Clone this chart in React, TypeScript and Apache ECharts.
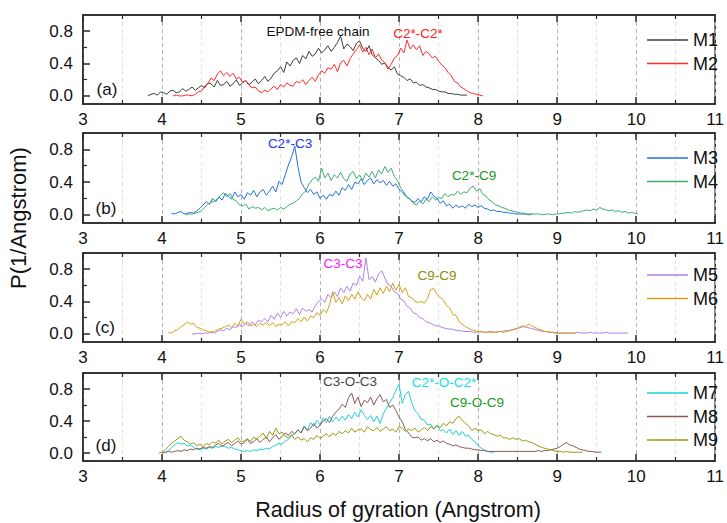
import React, { useEffect, useRef } from "react";
import * as echarts from "echarts";

// ---------- data (x = start + i * STEP) ----------
const STEP = 0.04;

const X_TICKS = [3, 4, 5, 6, 7, 8, 9, 10, 11];
const Y_LABELS = [0, 0.4, 0.8];
const Y_MINOR = [0.2, 0.6];

const SERIES_NAMES = ["M1", "M2", "M3", "M4", "M5", "M6", "M7", "M8", "M9"];
const SERIES_PANEL = [0, 0, 1, 1, 2, 2, 3, 3, 3];
const SERIES_START = [3.82, 4.14, 4.12, 4.3, 4.38, 4.08, 4.04, 4.0, 3.96];

const M1 = [0.00,0.02,0.03,0.01,0.05,
0.04,0.02,0.06,0.07,0.04,0.05,0.09,0.06,
0.08,0.11,0.07,0.10,0.13,
0.10,0.16,0.15,0.11,0.19,0.13,0.14,
0.18,0.12,0.15,0.20,0.13,0.16,0.19,0.14,
0.17,0.21,0.15,0.19,0.24,0.18,0.22,0.28,
0.31,0.36,0.29,0.42,0.37,0.44,0.47,0.40,
0.50,0.46,0.55,0.49,0.52,0.59,0.53,0.57,
0.62,0.55,0.60,0.66,0.74,0.58,0.64,0.61,
0.56,0.65,0.68,0.59,0.55,0.62,0.51,0.47,
0.44,0.39,0.41,0.35,0.32,0.36,0.27,0.25,
0.23,0.19,0.21,0.16,0.17,0.13,0.14,0.11,
0.10,0.08,0.08,0.06,0.05,0.05,0.03,0.03,
0.02,0.02,0.01,0.01,0.01];

const M2 = [0.00,0.01,0.00,0.00,0.01,0.01,0.00,0.02,
0.05,0.06,0.12,0.15,0.22,0.19,0.27,0.31,
0.25,0.29,0.24,0.28,0.21,0.23,0.17,0.19,
0.13,0.10,0.11,0.06,0.04,0.07,0.05,0.09,
0.12,0.08,0.14,0.11,0.16,0.13,0.12,0.18,
0.16,0.20,0.14,0.19,0.23,0.18,0.26,0.31,
0.28,0.35,0.33,0.39,0.30,0.41,0.44,0.37,
0.46,0.52,0.57,0.63,0.54,0.60,0.51,0.58,
0.47,0.52,0.44,0.41,0.33,0.39,0.47,0.50,
0.59,0.53,0.69,0.58,0.63,0.57,0.62,0.50,
0.55,0.52,0.47,0.49,0.43,0.38,0.35,0.29,
0.25,0.18,0.16,0.11,0.09,0.06,0.04,0.03,
0.02,0.01,0.00];

const M3 = [0.02,0.01,0.03,0.04,0.01,0.02,0.03,0.02,
0.05,0.08,0.12,0.16,0.13,0.20,0.16,0.22,
0.18,0.26,0.23,0.19,0.28,0.22,0.25,0.19,
0.27,0.24,0.30,0.22,0.28,0.31,0.24,0.29,
0.35,0.28,0.41,0.37,0.49,0.61,0.71,0.84,
0.59,0.40,0.33,0.27,0.31,0.25,0.28,0.20,
0.24,0.19,0.25,0.23,0.29,0.24,0.33,0.30,
0.37,0.31,0.40,0.38,0.44,0.37,0.42,0.45,
0.38,0.43,0.39,0.42,0.36,0.41,0.35,0.38,
0.31,0.28,0.23,0.21,0.17,0.15,0.20,0.16,
0.22,0.19,0.28,0.23,0.20,0.14,0.17,0.11,
0.13,0.08,0.12,0.09,0.11,0.08,0.13,0.10,
0.12,0.09,0.11,0.08,0.07,0.05,0.06,0.04,
0.04,0.03,0.03,0.02,0.02,0.01,0.01,0.01,
0.01,0.00,0.01];

const M4 = [0.00,0.01,0.01,0.02,0.03,0.05,0.09,0.13,
0.15,0.17,0.19,0.24,0.27,0.22,0.26,0.19,
0.17,0.12,0.11,0.13,0.07,0.10,0.08,0.09,
0.06,0.09,0.05,0.07,0.08,0.06,0.09,0.07,
0.10,0.13,0.14,0.17,0.20,0.26,0.29,0.38,
0.43,0.46,0.41,0.57,0.45,0.51,0.42,0.49,
0.45,0.52,0.44,0.41,0.50,0.53,0.44,0.49,
0.42,0.51,0.46,0.53,0.45,0.55,0.50,0.59,
0.52,0.57,0.47,0.42,0.33,0.28,0.21,0.19,
0.14,0.12,0.17,0.13,0.19,0.16,0.22,0.18,
0.21,0.20,0.26,0.22,0.25,0.24,0.29,0.25,
0.28,0.27,0.33,0.35,0.29,0.32,0.25,0.23,
0.18,0.16,0.12,0.11,0.09,0.08,0.06,0.05,
0.04,0.03,0.02,0.02,0.01,0.01,0.01,0.01,
0.01,0.00,0.01,0.01,0.00,0.01,0.01,0.02,
0.02,0.03,0.02,0.04,0.03,0.04,0.05,0.06,
0.05,0.07,0.06,0.09,0.07,0.06,0.05,0.06,
0.04,0.05,0.03,0.04,0.02,0.03,0.02,0.01];

const M5 = [0.00,0.00,0.01,0.00,0.01,0.01,0.02,0.01,
0.03,0.05,0.04,0.07,0.05,0.09,0.08,0.11,
0.09,0.13,0.10,0.15,0.11,0.17,0.15,0.19,
0.15,0.23,0.18,0.26,0.20,0.28,0.22,0.27,
0.25,0.31,0.24,0.32,0.28,0.30,0.27,0.35,
0.40,0.43,0.39,0.49,0.45,0.52,0.46,0.57,
0.51,0.59,0.53,0.63,0.60,0.71,0.65,0.94,
0.67,0.71,0.64,0.74,0.78,0.69,0.61,0.59,
0.52,0.50,0.43,0.41,0.34,0.32,0.26,0.25,
0.20,0.19,0.15,0.14,0.12,0.10,0.10,0.08,
0.07,0.06,0.06,0.05,0.04,0.04,0.03,0.03,
0.03,0.02,0.02,0.03,0.02,0.02,0.03,0.03,
0.02,0.03,0.03,0.04,0.04,0.05,0.06,0.07,
0.08,0.09,0.08,0.07,0.06,0.05,0.04,0.03,
0.03,0.02,0.02,0.01,0.01,0.01,0.01,0.01,
0.01,0.01,0.02,0.01,0.01,0.01,0.02,0.01,
0.01,0.01,0.01,0.02,0.01,0.01,0.01,0.01,
0.01,0.01,0.01];

const M6 = [0.02,0.01,0.04,0.05,0.09,0.11,0.15,0.12,
0.13,0.08,0.07,0.05,0.04,0.02,0.03,0.04,
0.06,0.07,0.09,0.11,0.08,0.13,0.10,0.18,
0.12,0.15,0.10,0.12,0.09,0.13,0.11,0.14,
0.10,0.14,0.09,0.12,0.11,0.15,0.10,0.15,
0.14,0.19,0.15,0.21,0.16,0.22,0.20,0.26,
0.23,0.30,0.26,0.36,0.52,0.39,0.45,0.37,
0.47,0.41,0.49,0.43,0.52,0.45,0.41,0.49,
0.43,0.55,0.48,0.57,0.50,0.59,0.52,0.63,
0.54,0.61,0.51,0.57,0.46,0.45,0.40,0.39,
0.40,0.38,0.44,0.55,0.56,0.49,0.45,0.42,
0.35,0.32,0.24,0.23,0.15,0.12,0.09,0.07,
0.05,0.04,0.03,0.03,0.02,0.02,0.02,0.02,
0.02,0.03,0.02,0.03,0.04,0.05,0.06,0.08,
0.10,0.09,0.12,0.10,0.08,0.06,0.05,0.03,
0.03,0.02,0.02,0.01,0.01,0.01,0.01,0.01,
0.01,0.01];

const M7 = [0.00,0.03,0.07,0.10,0.13,0.11,0.12,0.09,
0.10,0.07,0.05,0.04,0.06,0.05,0.07,0.06,
0.08,0.07,0.09,0.08,0.06,0.07,0.05,0.04,
0.03,0.02,0.03,0.02,0.04,0.03,0.05,0.04,
0.06,0.05,0.08,0.10,0.12,0.11,0.15,0.17,
0.22,0.24,0.29,0.25,0.34,0.29,0.38,0.33,
0.41,0.35,0.44,0.38,0.46,0.39,0.45,0.40,
0.46,0.41,0.48,0.43,0.51,0.45,0.54,0.47,
0.42,0.47,0.39,0.46,0.37,0.49,0.56,0.63,
0.69,0.79,0.86,0.62,0.73,0.77,0.63,0.53,
0.49,0.42,0.41,0.35,0.36,0.30,0.35,0.28,
0.29,0.25,0.30,0.23,0.28,0.22,0.27,0.21,
0.22,0.17,0.14,0.09,0.06,0.04,0.02,0.01,
0.01];

const M8 = [0.00,0.01,0.02,0.01,0.02,0.03,0.02,0.04,
0.03,0.05,0.04,0.06,0.05,0.07,0.06,0.08,
0.07,0.10,0.12,0.08,0.11,0.13,0.09,0.12,
0.15,0.11,0.13,0.17,0.12,0.14,0.18,0.13,
0.17,0.20,0.14,0.19,0.23,0.17,0.21,0.25,
0.22,0.27,0.24,0.29,0.25,0.33,0.28,0.31,
0.37,0.31,0.35,0.40,0.43,0.38,0.46,0.51,
0.55,0.61,0.57,0.69,0.75,0.62,0.70,0.58,
0.66,0.63,0.70,0.60,0.68,0.73,0.64,0.67,
0.57,0.60,0.53,0.45,0.39,0.29,0.25,0.20,
0.19,0.20,0.16,0.18,0.15,0.18,0.14,0.16,
0.13,0.15,0.12,0.11,0.09,0.10,0.08,0.07,
0.06,0.06,0.05,0.04,0.04,0.03,0.03,0.02,
0.02,0.02,0.02,0.02,0.02,0.02,0.02,0.02,
0.02,0.02,0.02,0.02,0.02,0.02,0.02,0.03,
0.02,0.03,0.03,0.04,0.05,0.06,0.08,0.11,
0.13,0.10,0.09,0.07,0.05,0.04,0.03,0.02,
0.02,0.01,0.01,0.01];

const M9 = [0.00,0.01,0.04,0.08,0.12,0.15,0.18,0.21,
0.16,0.14,0.11,0.13,0.09,0.11,0.08,0.12,
0.10,0.14,0.12,0.16,0.11,0.15,0.17,0.13,
0.16,0.19,0.14,0.15,0.18,0.14,0.20,0.17,
0.21,0.25,0.18,0.27,0.22,0.31,0.24,0.26,
0.21,0.19,0.23,0.17,0.20,0.16,0.18,0.14,
0.19,0.17,0.22,0.18,0.21,0.24,0.20,0.25,
0.22,0.27,0.24,0.28,0.25,0.31,0.26,0.29,
0.30,0.26,0.33,0.29,0.28,0.32,0.27,0.30,
0.33,0.28,0.30,0.26,0.33,0.31,0.27,0.30,
0.28,0.31,0.26,0.29,0.32,0.28,0.33,0.30,
0.34,0.32,0.37,0.34,0.39,0.37,0.43,0.46,
0.41,0.37,0.34,0.28,0.31,0.28,0.29,0.24,
0.27,0.24,0.23,0.21,0.22,0.19,0.19,0.17,
0.19,0.17,0.18,0.15,0.16,0.14,0.13,0.11,
0.09,0.07,0.06,0.05,0.04,0.03,0.02,0.02,
0.01,0.02,0.01,0.01,0.01,0.01,0.01];

const SERIES_VALUES = [M1, M2, M3, M4, M5, M6, M7, M8, M9];

// ---------- styles ----------
const COLORS = ["#3c3c3c", "#ff2b2b", "#2670e0", "#3caf6e", "#b27fea", "#d6a014", "#1ccfd6", "#8a5858", "#9c9a10"];
const FONT = "'Liberation Sans', Arial, Helvetica, sans-serif";
const GRID_TOPS = [15, 133, 253, 373];
const GRID_HEIGHTS = [89, 90, 89, 88];
const AXIS_COLOR = "#2a2a2a";

function buildOption() {
  const grids = GRID_TOPS.map((t, g) => ({
    left: 83,
    width: 637,
    top: t,
    height: GRID_HEIGHTS[g],
    show: true,
    borderColor: AXIS_COLOR,
    borderWidth: 1.5,
    backgroundColor: "transparent",
  }));

  const xAxes: any[] = [];
  const yAxes: any[] = [];
  GRID_TOPS.forEach((_, g) => {
    xAxes.push({
      gridIndex: g,
      type: "value",
      position: "bottom",
      min: X_TICKS[0],
      max: X_TICKS[X_TICKS.length - 1],
      interval: 1,
      axisLine: { show: true, onZero: false, lineStyle: { color: AXIS_COLOR, width: 1.5 } },
      axisTick: { show: true, inside: true, length: 7, lineStyle: { color: AXIS_COLOR, width: 1.5 } },
      minorTick: { show: true, splitNumber: 2, length: 4, lineStyle: { color: AXIS_COLOR, width: 1.2 } },
      axisLabel: { fontSize: 17, color: "#111", fontFamily: FONT, margin: 7 },
      splitLine: { show: true, lineStyle: { color: "#b4b4b4", type: [4, 3], width: 1 } },
      minorSplitLine: { show: true, lineStyle: { color: "#e2e2e2", type: [4, 3], width: 1 } },
    });
    xAxes.push({
      gridIndex: g,
      type: "value",
      position: "top",
      min: X_TICKS[0],
      max: X_TICKS[X_TICKS.length - 1],
      interval: 1,
      axisLine: { show: true, onZero: false, lineStyle: { color: AXIS_COLOR, width: 1.5 } },
      axisTick: { show: true, inside: true, length: 7, lineStyle: { color: AXIS_COLOR, width: 1.5 } },
      minorTick: { show: true, splitNumber: 2, length: 4, lineStyle: { color: AXIS_COLOR, width: 1.2 } },
      axisLabel: { show: false },
      splitLine: { show: false },
    });
    yAxes.push({
      gridIndex: g,
      type: "value",
      min: -0.1,
      max: 1.0,
      position: "left",
      axisLine: { show: true, onZero: false, lineStyle: { color: AXIS_COLOR, width: 1.5 } },
      axisTick: { show: true, inside: true, length: 7, customValues: Y_LABELS, lineStyle: { color: AXIS_COLOR, width: 1.5 } },
      axisLabel: {
        customValues: Y_LABELS,
        fontSize: 17,
        color: "#111",
        fontFamily: FONT,
        margin: 10,
        formatter: (v: number) => v.toFixed(1),
      },
      splitLine: { show: false },
    });
    yAxes.push({
      gridIndex: g,
      type: "value",
      min: -0.1,
      max: 1.0,
      position: "left",
      axisLine: { show: false, onZero: false },
      axisTick: { show: true, inside: true, length: 4, customValues: Y_MINOR, lineStyle: { color: AXIS_COLOR, width: 1.2 } },
      axisLabel: { show: false, customValues: Y_MINOR },
      splitLine: { show: false },
    });
  });

  const series = SERIES_NAMES.map((name, k) => {
    const g = SERIES_PANEL[k];
    const start = SERIES_START[k];
    return {
      name,
      type: "line",
      xAxisIndex: 2 * g,
      yAxisIndex: 2 * g,
      showSymbol: false,
      symbol: "none",
      lineStyle: { color: COLORS[k], width: 1 },
      itemStyle: { color: COLORS[k] },
      data: SERIES_VALUES[k].map((v, i) => [+(start + i * STEP).toFixed(2), v]),
      z: 3,
    };
  });

  const legendTops = [26, 144, 261, 379];
  const legends = legendTops.map((t, g) => ({
    data: SERIES_NAMES.filter((_, k) => SERIES_PANEL[k] === g),
    orient: "vertical",
    left: 642,
    top: t,
    icon: "rect",
    itemWidth: 41,
    itemHeight: 1.5,
    itemGap: 5.5,
    selectedMode: false,
    textStyle: { fontSize: 18, color: "#111", fontFamily: FONT, lineHeight: 18 },
  }));

  const txt = (text: string, x: number, y: number, color: string, size: number, rotation = 0) => ({
    type: "text",
    x,
    y,
    rotation,
    silent: true,
    style: {
      text,
      fill: color,
      fontSize: size,
      fontFamily: FONT,
      textAlign: "center",
      textVerticalAlign: "middle",
      align: "center",
      verticalAlign: "middle",
    },
    z: 10,
  });

  const graphics = [
    txt("EPDM-free chain", 318, 31, "#111", 13.5),
    txt("C2*-C2*", 418, 33, "#ff2020", 13.5),
    txt("C2*-C3", 290, 143, "#2233ee", 13.5),
    txt("C2*-C9", 474, 175, "#1e961e", 13.5),
    txt("C3-C3", 343, 263, "#ff1aff", 13.5),
    txt("C9-C9", 437, 275, "#8e8c10", 13.5),
    txt("C3-O-C3", 350, 381, "#444444", 13.5),
    txt("C2*-O-C2*", 444, 382, "#10e0ea", 13.5),
    txt("C9-O-C9", 477, 402, "#169a16", 13.5),
    txt("(a)", 107, 89, "#111", 17),
    txt("(b)", 106, 208, "#111", 17),
    txt("(c)", 105, 327, "#111", 17),
    txt("(d)", 106, 445, "#111", 17),
    txt("P(1/Angstrom)", 18, 218, "#111", 22, Math.PI / 2),
    txt("Radius of gyration (Angstrom)", 398, 510, "#111", 21.5),
  ];

  return {
    animation: false,
    backgroundColor: "#ffffff",
    grid: grids,
    xAxis: xAxes,
    yAxis: yAxes,
    legend: legends,
    series,
    graphic: { elements: graphics },
  };
}

export default function App() {
  const ref = useRef<HTMLDivElement>(null);
  useEffect(() => {
    if (!ref.current) return;
    const chart = echarts.init(ref.current, undefined, { renderer: "svg" });
    chart.setOption(buildOption() as any);
    return () => chart.dispose();
  }, []);
  return (
    <div
      ref={ref}
      style={{ position: "absolute", left: 0, top: 0, width: 727, height: 523, background: "#fff" }}
    />
  );
}
